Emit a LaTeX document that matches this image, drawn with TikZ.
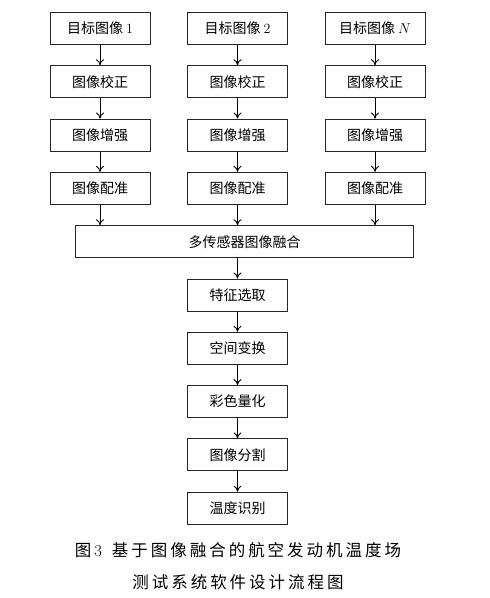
\documentclass[tikz,border=0pt]{standalone}
\usepackage{fontspec}
\newfontfamily\cjk{Noto Sans CJK SC}
\newfontfamily\cjkcap[LetterSpace=18]{Noto Sans CJK SC}
\usetikzlibrary{arrows.meta,positioning}

\begin{document}
\begin{tikzpicture}[
    x=1pt, y=-1pt,
    node distance=20.3pt and 36.5pt,
    box/.style={rectangle, draw=black!85, line width=1pt,
                minimum width=100pt, minimum height=32pt,
                align=center, inner sep=0pt,
                font=\cjk\fontsize{14}{16}\selectfont},
    widebox/.style={box, minimum width=338pt},
    arr/.style={-{To[length=6pt,width=8pt]}, line width=0.9pt},
    caption/.style={font=\cjkcap\fontsize{16.5}{20}\selectfont, inner sep=0pt}
]
\useasboundingbox (0,0) rectangle (490,598);

% --- Rows 1-4: three parallel image chains ---
\node[box] (tgtA) at (100,28.5) {目标图像 \textrm{1}};
\node[box, right=of tgtA] (tgtB) {目标图像 \textrm{2}};
\node[box, right=of tgtB] (tgtN) {目标图像 $N$};

\node[box, below=of tgtA] (corA) {图像校正};
\node[box, below=of tgtB] (corB) {图像校正};
\node[box, below=of tgtN] (corN) {图像校正};

\node[box, below=of corA] (enhA) {图像增强};
\node[box, below=of corB] (enhB) {图像增强};
\node[box, below=of corN] (enhN) {图像增强};

\node[box, below=of enhA] (regA) {图像配准};
\node[box, below=of enhB] (regB) {图像配准};
\node[box, below=of enhN] (regN) {图像配准};

% --- Row 5: fusion ---
\node[widebox, below=of regB, xshift=7pt] (fusion) {多传感器图像融合};

% --- Rows 6-10: single chain ---
\node[box, below=of fusion, xshift=-7pt] (feat) {特征选取};
\node[box, below=of feat] (space) {空间变换};
\node[box, below=of space] (quant) {彩色量化};
\node[box, below=of quant] (segm) {图像分割};
\node[box, below=of segm] (temp) {温度识别};

% caption
\node[caption] (capA) at (238,550) {图\textrm{3}\hspace{10pt}基于图像融合的航空发动机温度场};
\node[caption] (capB) at (238,582) {测试系统软件设计流程图};

% arrows
\foreach \c in {A,B,N} {
  \draw[arr] (tgt\c) -- (cor\c);
  \draw[arr] (cor\c) -- (enh\c);
  \draw[arr] (enh\c) -- (reg\c);
  \draw[arr] (reg\c) -- (reg\c |- fusion.north);
}
\draw[arr] (fusion.south -| feat) -- (feat);
\draw[arr] (feat) -- (space);
\draw[arr] (space) -- (quant);
\draw[arr] (quant) -- (segm);
\draw[arr] (segm) -- (temp);

\end{tikzpicture}
\end{document}
